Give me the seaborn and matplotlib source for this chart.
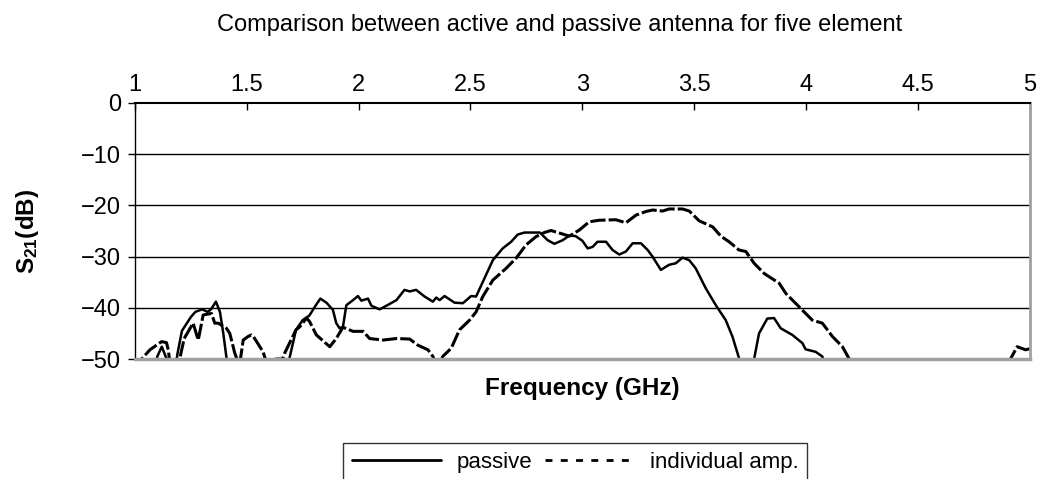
import numpy as np
import pandas as pd
import matplotlib
matplotlib.use('Agg')
import matplotlib.pyplot as plt
from matplotlib.lines import Line2D
import seaborn as sns

# S21 traces (GHz, dB); values under -50 fall outside the axis
freq_passive = [1.00, 1.09, 1.10, 1.12, 1.14, 1.16, 1.185, 1.19, 1.21, 1.25, 1.27, 1.30, 1.325, 1.34, 1.362,
                1.38, 1.395, 1.41, 1.43, 1.65, 1.69, 1.72, 1.75, 1.78, 1.804, 1.829, 1.856, 1.885, 1.90, 1.915,
                1.93, 1.945, 1.975, 1.997, 2.012, 2.042, 2.057, 2.094, 2.124, 2.169, 2.205, 2.228, 2.257, 2.295,
                2.332, 2.347, 2.362, 2.384, 2.429, 2.466, 2.503, 2.525, 2.563, 2.60, 2.644, 2.682, 2.711, 2.741,
                2.81, 2.845, 2.875, 2.912, 2.942, 2.97, 3.00, 3.024, 3.046, 3.068, 3.106, 3.135, 3.165, 3.195,
                3.225, 3.262, 3.292, 3.314, 3.351, 3.388, 3.418, 3.448, 3.478, 3.507, 3.552, 3.597, 3.641, 3.671,
                3.701, 3.72, 3.75, 3.768, 3.79, 3.827, 3.857, 3.887, 3.939, 3.984, 3.998, 4.043, 4.073, 4.09,
                4.2, 5.0]
db_passive = [-58, -52, -49.5, -47.6, -49.8, -50.5, -50.5, -49, -44.5, -41.8, -40.8, -40.3, -40.8, -40.3, -38.8,
              -40.8, -45, -50, -58, -58, -50, -44.3, -42.4, -41.5, -39.8, -38.2, -39, -40.4, -43, -44,
              -43.7, -39.5, -38.5, -37.7, -38.6, -38.2, -39.6, -40.3, -39.6, -38.5, -36.5, -36.8, -36.5, -37.8,
              -38.8, -38, -38.5, -37.7, -39, -39.1, -37.7, -37.8, -34.2, -30.7, -28.4, -27.1, -25.7, -25.3,
              -25.3, -26.8, -27.5, -26.8, -25.9, -26.0, -26.9, -28.4, -28.1, -27.1, -27.1, -28.7, -29.6, -29,
              -27.4, -27.4, -28.7, -30, -32.6, -31.6, -31.3, -30.2, -30.7, -32.3, -36.2, -39.5, -42.4, -45.6,
              -49.9, -56, -56, -50, -45, -42.1, -42, -44, -45.3, -46.9, -48.1, -48.6, -49.5, -52,
              -60, -60]

freq_amp = [1.00, 1.03, 1.067, 1.119, 1.141, 1.149, 1.16, 1.19, 1.22, 1.26, 1.283, 1.305, 1.342, 1.357, 1.372,
            1.409, 1.424, 1.446, 1.46, 1.47, 1.484, 1.506, 1.521, 1.528, 1.573, 1.59, 1.62, 1.63, 1.66, 1.67,
            1.72, 1.737, 1.767, 1.781, 1.811, 1.871, 1.90, 1.93, 1.975, 2.02, 2.049, 2.109, 2.169, 2.228,
            2.265, 2.31, 2.332, 2.345, 2.365, 2.376, 2.414, 2.451, 2.496, 2.525, 2.555, 2.60, 2.659, 2.704,
            2.749, 2.793, 2.83, 2.86, 2.89, 2.942, 2.987, 3.031, 3.076, 3.15, 3.195, 3.24, 3.284, 3.314,
            3.359, 3.388, 3.448, 3.478, 3.522, 3.583, 3.619, 3.656, 3.70, 3.731, 3.768, 3.813, 3.88, 3.91,
            3.969, 4.028, 4.073, 4.118, 4.163, 4.192, 4.22, 4.88, 4.914, 4.944, 4.982, 5.0]
db_amp = [-56, -50, -48.2, -46.6, -46.8, -48.2, -52, -52, -46, -43, -46.3, -41.4, -41.1, -43, -43,
          -44, -45, -48.8, -50.5, -50.5, -46.3, -45.6, -45.3, -45.5, -48.6, -51, -51, -50, -50, -48.8,
          -44.3, -43.7, -42, -42.7, -45.3, -47.6, -46, -43.8, -44.6, -44.6, -46, -46.3, -46, -46.1,
          -47.3, -48.2, -49.5, -51, -51, -49.5, -47.9, -44.3, -42.4, -40.8, -37.8, -34.6, -32.3, -30.3,
          -27.7, -26.1, -25.3, -24.9, -25.3, -26, -24.8, -23.2, -22.9, -22.8, -23.4, -21.9, -21.2, -20.9,
          -21.1, -20.7, -20.7, -21.1, -23, -24.2, -26, -27.1, -28.7, -29, -31.3, -33.3, -35.2, -37.2,
          -39.8, -42.4, -43, -45.6, -47.6, -49.9, -56, -56, -50, -47.6, -48.2, -48.0]

x_ticks = [1, 1.5, 2, 2.5, 3, 3.5, 4, 4.5, 5]
x_tick_labels = ['1', '1.5', '2', '2.5', '3', '3.5', '4', '4.5', '5']
y_ticks = [0, -10, -20, -30, -40, -50]

df_passive = pd.DataFrame({'freq': freq_passive, 'db': db_passive})
df_amp = pd.DataFrame({'freq': freq_amp, 'db': db_amp})

sns.set_style('white')
plt.rcParams['font.family'] = ['Liberation Sans', 'DejaVu Sans']
plt.rcParams['mathtext.fontset'] = 'custom'
plt.rcParams['mathtext.bf'] = 'Liberation Sans:bold'
plt.rcParams['mathtext.rm'] = 'Liberation Sans'
# plain black text, like the original
for key in ['text.color', 'axes.labelcolor', 'xtick.color', 'ytick.color']:
    plt.rcParams[key] = 'black'

fig = plt.figure(figsize=(10.38, 4.79), dpi=100)
ax = fig.add_axes([0.130, 0.2505, 0.862, 0.5345])

sns.lineplot(data=df_passive, x='freq', y='db', ax=ax, color='black', lw=1.8,
             estimator=None, sort=False)
sns.lineplot(data=df_amp, x='freq', y='db', ax=ax, color='black', lw=2.2,
             estimator=None, sort=False, linestyle=(0, (5, 1)))

ax.set_xlim(1, 5)
ax.set_ylim(-50, 0)
ax.set_xticks(x_ticks)
ax.set_xticklabels(x_tick_labels)
ax.set_yticks(y_ticks)
ax.xaxis.tick_top()
ax.tick_params(axis='x', direction='in', length=5, width=1, color='black', labelsize=17, pad=5)
ax.tick_params(axis='y', direction='out', length=5, width=1, color='black', labelsize=17, pad=5,
               left=True)
for y in [-10, -20, -30, -40]:
    ax.axhline(y, color='black', lw=1)

ax.spines['top'].set_color('black')
ax.spines['top'].set_linewidth(1.5)
ax.spines['left'].set_color('black')
ax.spines['left'].set_linewidth(1)
ax.spines['right'].set_color('#a0a0a0')
ax.spines['right'].set_linewidth(2)
ax.spines['bottom'].set_color('#a0a0a0')
ax.spines['bottom'].set_linewidth(2.5)

ax.set_xlabel('Frequency (GHz)', fontsize=17.5, fontweight='bold')
ax.xaxis.set_label_position('bottom')
ax.xaxis.set_label_coords(0.5, -0.07)
ax.set_ylabel(r'$\mathbf{S_{21}(dB)}$', fontsize=17.5)
ax.yaxis.set_label_coords(-0.105, 0.5)

fig.text(560 / 1038, 0.948, 'Comparison between active and passive antenna for five element',
         ha='center', va='center', fontsize=17)

handles = [Line2D([], [], color='black', lw=2),
           Line2D([], [], color='black', lw=2, linestyle=(0, (2.5, 3)))]
labels = ['passive', 'individual amp.']
fig.legend(handles, labels, loc='upper left', bbox_to_anchor=(343 / 1038, 1 - 443 / 479),
           ncol=2, frameon=True, fancybox=False, edgecolor='black', fontsize=16,
           handlelength=4.0, handletextpad=0.7, columnspacing=0.6, borderpad=0.4,
           borderaxespad=0)

plt.savefig('out.png', dpi=100)
